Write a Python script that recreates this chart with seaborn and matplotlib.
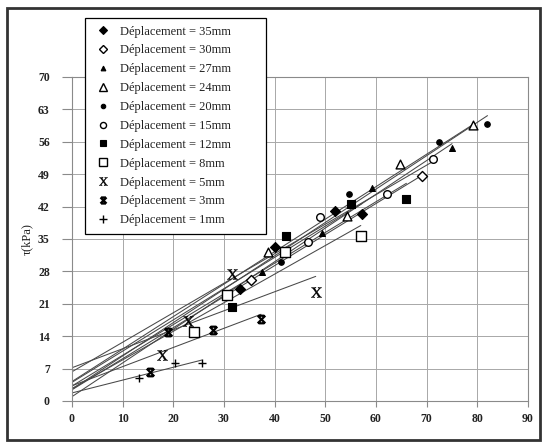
import numpy as np
import pandas as pd
import matplotlib
matplotlib.use("Agg")
import matplotlib.pyplot as plt
import seaborn as sns
from matplotlib.path import Path
from matplotlib.lines import Line2D
from matplotlib.patches import Rectangle

# ---------------- data ----------------
labels = ["Déplacement = 35mm", "Déplacement = 30mm", "Déplacement = 27mm",
          "Déplacement = 24mm", "Déplacement = 20mm", "Déplacement = 15mm",
          "Déplacement = 12mm", "Déplacement = 8mm", "Déplacement = 5mm",
          "Déplacement = 3mm", "Déplacement = 1mm"]

sigma_35 = [33.1, 40.0, 51.9, 57.2]
tau_35 = [24.3, 33.3, 41.1, 40.4]
sigma_30 = [35.3, 69.0]
tau_30 = [26.1, 48.7]
sigma_27 = [37.5, 49.3, 59.2, 75.0]
tau_27 = [27.8, 36.3, 46.1, 54.6]
sigma_24 = [38.7, 54.2, 64.7, 79.1]
tau_24 = [32.2, 40.0, 51.1, 59.6]
sigma_20 = [41.2, 54.6, 72.4, 82.0]
tau_20 = [30.0, 44.8, 55.9, 59.8]
sigma_15 = [46.5, 48.9, 62.1, 71.2]
tau_15 = [34.3, 39.8, 44.8, 52.2]
sigma_12 = [31.6, 42.2, 55.0, 66.0]
tau_12 = [20.2, 35.7, 42.6, 43.7]
sigma_8 = [24.0, 30.6, 42.0, 57.0]
tau_8 = [14.8, 23.0, 32.2, 35.7]
sigma_5 = [17.7, 22.9, 31.6, 48.1]
tau_5 = [10.0, 17.2, 27.4, 23.5]
sigma_3 = [15.4, 18.9, 27.8, 37.3]
tau_3 = [6.3, 14.8, 15.4, 17.8]
sigma_1 = [13.2, 20.3, 25.6]
tau_1 = [5.0, 8.3, 8.3]

xticks = [0, 10, 20, 30, 40, 50, 60, 70, 80, 90]
yticks = [0, 7, 14, 21, 28, 35, 42, 49, 56, 63, 70]
ylabel = "τ(kPa)"

sigmas = [sigma_35, sigma_30, sigma_27, sigma_24, sigma_20, sigma_15,
          sigma_12, sigma_8, sigma_5, sigma_3, sigma_1]
taus = [tau_35, tau_30, tau_27, tau_24, tau_20, tau_15,
        tau_12, tau_8, tau_5, tau_3, tau_1]

frames = []
for lab, s, t in zip(labels, sigmas, taus):
    frames.append(pd.DataFrame({"sigma": s, "tau": t, "serie": lab}))
df = pd.concat(frames, ignore_index=True)

# ---------------- styles ----------------
hourglass = Path([(-1, -1), (1, 1), (-1, 1), (1, -1),
                  (-0.75, 1), (0.75, 1), (-0.75, -1), (0.75, -1)],
                 [Path.MOVETO, Path.LINETO, Path.MOVETO, Path.LINETO,
                  Path.MOVETO, Path.LINETO, Path.MOVETO, Path.LINETO])

# marker, face colour, size(pt^2), linewidth
styles = [
    ("D", "black", 26, 0.8),
    ("D", "white", 26, 1.0),
    ("^", "black", 18, 0.8),
    ("^", "white", 40, 1.0),
    ("o", "black", 16, 0.8),
    ("o", "white", 30, 1.0),
    ("s", "black", 38, 0.8),
    ("s", "white", 50, 1.0),
    ("$\\mathrm{X}$", "black", 55, 0.3),
    (hourglass, "black", 30, 1.6),
    ("+", "black", 40, 1.0),
]

sns.set_theme(style="white")
plt.rcParams["font.family"] = ["Liberation Serif", "DejaVu Serif"]
plt.rcParams["mathtext.fontset"] = "stix"

fig = plt.figure(figsize=(5.47, 4.42), dpi=100)
ax = fig.add_axes([0.1316, 0.0928, 0.8337, 0.7330])

line_color = "#484848"
for (lab, s, t), (mk, fc, sz, lw) in zip(zip(labels, sigmas, taus), styles):
    sub = df[df["serie"] == lab]
    slope, inter = np.polyfit(sub["sigma"], sub["tau"], 1)
    xs = np.array([0.0, sub["sigma"].max()])
    ax.plot(xs, inter + slope * xs, color=line_color, lw=0.75, zorder=2)
    sns.scatterplot(data=sub, x="sigma", y="tau", marker=mk, s=sz,
                    color=fc, edgecolor="black", linewidth=lw, ax=ax,
                    zorder=3, legend=False)

ax.set_xlim(0, 90)
ax.set_ylim(0, 70)
ax.set_xticks(xticks)
ax.set_yticks(yticks)
ax.set_xticklabels([str(v) for v in xticks])
ax.set_yticklabels([str(v) for v in yticks])
ax.grid(True, color="#a8a8a8", lw=0.7)
ax.set_axisbelow(True)
for side in ["left", "bottom", "top", "right"]:
    ax.spines[side].set_color("#8a8a8a")
    ax.spines[side].set_linewidth(0.8)
ax.tick_params(axis="y", direction="out", length=7, width=0.8, color="#8a8a8a",
               pad=9, left=True)
ax.tick_params(axis="x", direction="out", length=4, width=0.8, color="#8a8a8a",
               pad=5, bottom=True)
for lbl in ax.get_xticklabels() + ax.get_yticklabels():
    lbl.set_fontweight("bold")
    lbl.set_fontsize(8.5)
    lbl.set_color("#222222")
ax.set_xlabel("")
ax.set_ylabel(ylabel, fontsize=9, color="#222222", labelpad=4)

# legend
handles = []
for mk, fc, sz, lw in styles:
    handles.append(Line2D([], [], marker=mk, linestyle="none",
                          markerfacecolor=fc, markeredgecolor="black",
                          markeredgewidth=lw, markersize=np.sqrt(sz) * 0.8,
                          color="black"))
leg = fig.legend(handles, labels, loc="upper left",
                 bbox_to_anchor=(85 / 547, 1 - 233 / 442, 181 / 547, 215 / 442),
                 bbox_transform=fig.transFigure, mode="expand",
                 frameon=True, fancybox=False, framealpha=1,
                 edgecolor="black", prop={"family": "Liberation Serif", "size": 9},
                 labelspacing=0.55, handlelength=1.6, handletextpad=0.6,
                 borderpad=0.6, borderaxespad=0)
leg.get_frame().set_linewidth(0.9)
for txt in leg.get_texts():
    txt.set_color("#222222")

# outer frame
fig.patches.append(Rectangle((7 / 547, 2 / 442), (540 - 7) / 547, (434 - 2) / 442,
                             transform=fig.transFigure, fill=False,
                             edgecolor="#333333", lw=2.0))

fig.savefig("out.png", dpi=100)
